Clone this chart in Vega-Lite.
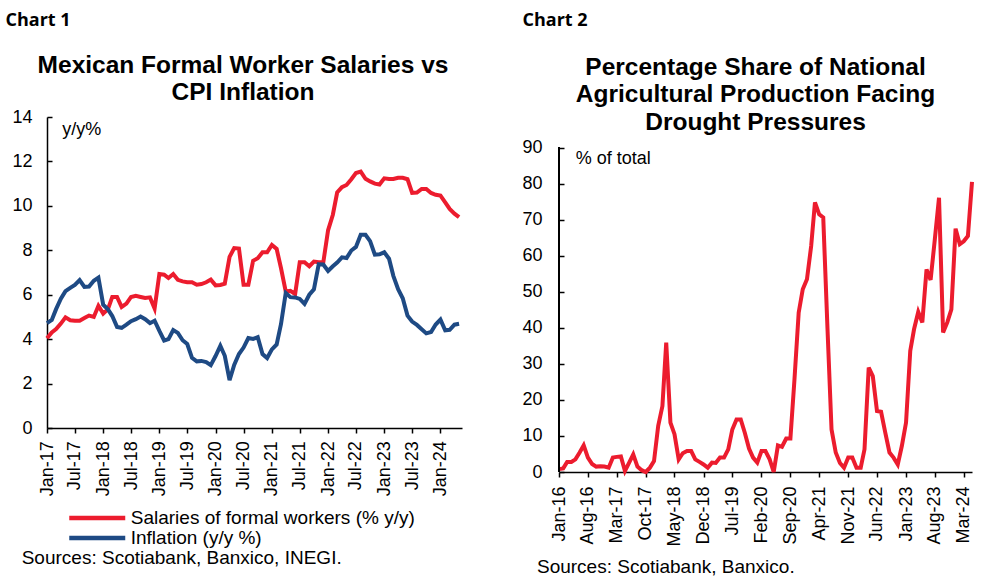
{
  "$schema": "https://vega.github.io/schema/vega-lite/v6.json",
  "background": "white",
  "padding": {"left": 5, "top": 11, "right": 5, "bottom": 0},
  "spacing": 53,
  "config": {"view": {"stroke": null}, "font": "Liberation Sans"},
  "datasets": {
    "c1": [
      {"date": "2017-01-01", "sal": 4.04, "inf": 4.72}, {"date": "2017-02-01", "sal": 4.3, "inf": 4.86}, {"date": "2017-03-01", "sal": 4.45, "inf": 5.35}, {"date": "2017-04-01", "sal": 4.7, "inf": 5.82}, {"date": "2017-05-01", "sal": 4.98, "inf": 6.16}, {"date": "2017-06-01", "sal": 4.85, "inf": 6.31}, {"date": "2017-07-01", "sal": 4.83, "inf": 6.44}, {"date": "2017-08-01", "sal": 4.83, "inf": 6.66}, {"date": "2017-09-01", "sal": 4.95, "inf": 6.35}, {"date": "2017-10-01", "sal": 5.06, "inf": 6.37}, {"date": "2017-11-01", "sal": 5.0, "inf": 6.63}, {"date": "2017-12-01", "sal": 5.5, "inf": 6.77},
      {"date": "2018-01-01", "sal": 5.15, "inf": 5.55}, {"date": "2018-02-01", "sal": 5.35, "inf": 5.34}, {"date": "2018-03-01", "sal": 5.9, "inf": 5.04}, {"date": "2018-04-01", "sal": 5.9, "inf": 4.55}, {"date": "2018-05-01", "sal": 5.45, "inf": 4.51}, {"date": "2018-06-01", "sal": 5.6, "inf": 4.65}, {"date": "2018-07-01", "sal": 5.9, "inf": 4.81}, {"date": "2018-08-01", "sal": 5.95, "inf": 4.9}, {"date": "2018-09-01", "sal": 5.9, "inf": 5.02}, {"date": "2018-10-01", "sal": 5.85, "inf": 4.9}, {"date": "2018-11-01", "sal": 5.88, "inf": 4.72}, {"date": "2018-12-01", "sal": 5.38, "inf": 4.83},
      {"date": "2019-01-01", "sal": 6.93, "inf": 4.37}, {"date": "2019-02-01", "sal": 6.9, "inf": 3.94}, {"date": "2019-03-01", "sal": 6.75, "inf": 4.0}, {"date": "2019-04-01", "sal": 6.93, "inf": 4.41}, {"date": "2019-05-01", "sal": 6.67, "inf": 4.28}, {"date": "2019-06-01", "sal": 6.6, "inf": 3.95}, {"date": "2019-07-01", "sal": 6.56, "inf": 3.78}, {"date": "2019-08-01", "sal": 6.56, "inf": 3.16}, {"date": "2019-09-01", "sal": 6.45, "inf": 3.0}, {"date": "2019-10-01", "sal": 6.48, "inf": 3.02}, {"date": "2019-11-01", "sal": 6.56, "inf": 2.97}, {"date": "2019-12-01", "sal": 6.68, "inf": 2.83},
      {"date": "2020-01-01", "sal": 6.42, "inf": 3.24}, {"date": "2020-02-01", "sal": 6.44, "inf": 3.7}, {"date": "2020-03-01", "sal": 6.5, "inf": 3.25}, {"date": "2020-04-01", "sal": 7.7, "inf": 2.15}, {"date": "2020-05-01", "sal": 8.1, "inf": 2.84}, {"date": "2020-06-01", "sal": 8.08, "inf": 3.33}, {"date": "2020-07-01", "sal": 6.45, "inf": 3.62}, {"date": "2020-08-01", "sal": 6.45, "inf": 4.05}, {"date": "2020-09-01", "sal": 7.53, "inf": 4.01}, {"date": "2020-10-01", "sal": 7.64, "inf": 4.09}, {"date": "2020-11-01", "sal": 7.91, "inf": 3.33}, {"date": "2020-12-01", "sal": 7.91, "inf": 3.15},
      {"date": "2021-01-01", "sal": 8.24, "inf": 3.54}, {"date": "2021-02-01", "sal": 8.06, "inf": 3.76}, {"date": "2021-03-01", "sal": 7.2, "inf": 4.67}, {"date": "2021-04-01", "sal": 6.14, "inf": 6.08}, {"date": "2021-05-01", "sal": 6.17, "inf": 5.89}, {"date": "2021-06-01", "sal": 6.03, "inf": 5.88}, {"date": "2021-07-01", "sal": 7.46, "inf": 5.81}, {"date": "2021-08-01", "sal": 7.46, "inf": 5.59}, {"date": "2021-09-01", "sal": 7.28, "inf": 6.0}, {"date": "2021-10-01", "sal": 7.49, "inf": 6.24}, {"date": "2021-11-01", "sal": 7.46, "inf": 7.37}, {"date": "2021-12-01", "sal": 7.46, "inf": 7.36},
      {"date": "2022-01-01", "sal": 8.9, "inf": 7.07}, {"date": "2022-02-01", "sal": 9.6, "inf": 7.28}, {"date": "2022-03-01", "sal": 10.6, "inf": 7.45}, {"date": "2022-04-01", "sal": 10.84, "inf": 7.68}, {"date": "2022-05-01", "sal": 10.94, "inf": 7.65}, {"date": "2022-06-01", "sal": 11.2, "inf": 7.99}, {"date": "2022-07-01", "sal": 11.48, "inf": 8.15}, {"date": "2022-08-01", "sal": 11.54, "inf": 8.7}, {"date": "2022-09-01", "sal": 11.22, "inf": 8.7}, {"date": "2022-10-01", "sal": 11.1, "inf": 8.41}, {"date": "2022-11-01", "sal": 11.0, "inf": 7.8}, {"date": "2022-12-01", "sal": 10.96, "inf": 7.82},
      {"date": "2023-01-01", "sal": 11.24, "inf": 7.91}, {"date": "2023-02-01", "sal": 11.21, "inf": 7.62}, {"date": "2023-03-01", "sal": 11.21, "inf": 6.85}, {"date": "2023-04-01", "sal": 11.26, "inf": 6.25}, {"date": "2023-05-01", "sal": 11.26, "inf": 5.84}, {"date": "2023-06-01", "sal": 11.2, "inf": 5.06}, {"date": "2023-07-01", "sal": 10.58, "inf": 4.79}, {"date": "2023-08-01", "sal": 10.6, "inf": 4.64}, {"date": "2023-09-01", "sal": 10.76, "inf": 4.45}, {"date": "2023-10-01", "sal": 10.76, "inf": 4.26}, {"date": "2023-11-01", "sal": 10.58, "inf": 4.32}, {"date": "2023-12-01", "sal": 10.5, "inf": 4.66},
      {"date": "2024-01-01", "sal": 10.46, "inf": 4.88}, {"date": "2024-02-01", "sal": 10.16, "inf": 4.4}, {"date": "2024-03-01", "sal": 9.86, "inf": 4.42}, {"date": "2024-04-01", "sal": 9.65, "inf": 4.65}, {"date": "2024-05-01", "sal": 9.49, "inf": 4.69}
    ],
    "c2": [
      {"date": "2016-01-01", "share": 0.8}, {"date": "2016-02-01", "share": 1.0}, {"date": "2016-03-01", "share": 2.8}, {"date": "2016-04-01", "share": 2.8}, {"date": "2016-05-01", "share": 3.5}, {"date": "2016-06-01", "share": 5.4}, {"date": "2016-07-01", "share": 7.4}, {"date": "2016-08-01", "share": 4.0}, {"date": "2016-09-01", "share": 2.2}, {"date": "2016-10-01", "share": 1.5}, {"date": "2016-11-01", "share": 1.6}, {"date": "2016-12-01", "share": 1.5},
      {"date": "2017-01-01", "share": 1.2}, {"date": "2017-02-01", "share": 4.0}, {"date": "2017-03-01", "share": 4.2}, {"date": "2017-04-01", "share": 4.3}, {"date": "2017-05-01", "share": 0.3}, {"date": "2017-06-01", "share": 2.6}, {"date": "2017-07-01", "share": 4.9}, {"date": "2017-08-01", "share": 1.5}, {"date": "2017-09-01", "share": 0.5}, {"date": "2017-10-01", "share": 0.0}, {"date": "2017-11-01", "share": 1.2}, {"date": "2017-12-01", "share": 3.0},
      {"date": "2018-01-01", "share": 12.8}, {"date": "2018-02-01", "share": 18.3}, {"date": "2018-03-01", "share": 35.9}, {"date": "2018-04-01", "share": 13.7}, {"date": "2018-05-01", "share": 10.5}, {"date": "2018-06-01", "share": 3.5}, {"date": "2018-07-01", "share": 5.2}, {"date": "2018-08-01", "share": 5.8}, {"date": "2018-09-01", "share": 5.8}, {"date": "2018-10-01", "share": 3.5}, {"date": "2018-11-01", "share": 2.8}, {"date": "2018-12-01", "share": 2.1},
      {"date": "2019-01-01", "share": 1.2}, {"date": "2019-02-01", "share": 2.6}, {"date": "2019-03-01", "share": 2.5}, {"date": "2019-04-01", "share": 4.0}, {"date": "2019-05-01", "share": 4.0}, {"date": "2019-06-01", "share": 6.3}, {"date": "2019-07-01", "share": 11.8}, {"date": "2019-08-01", "share": 14.6}, {"date": "2019-09-01", "share": 14.6}, {"date": "2019-10-01", "share": 10.9}, {"date": "2019-11-01", "share": 6.5}, {"date": "2019-12-01", "share": 4.0},
      {"date": "2020-01-01", "share": 2.6}, {"date": "2020-02-01", "share": 5.8}, {"date": "2020-03-01", "share": 5.8}, {"date": "2020-04-01", "share": 3.5}, {"date": "2020-05-01", "share": 0.0}, {"date": "2020-06-01", "share": 7.4}, {"date": "2020-07-01", "share": 7.0}, {"date": "2020-08-01", "share": 9.3}, {"date": "2020-09-01", "share": 9.3}, {"date": "2020-10-01", "share": 25.7}, {"date": "2020-11-01", "share": 44.2}, {"date": "2020-12-01", "share": 50.7},
      {"date": "2021-01-01", "share": 53.5}, {"date": "2021-02-01", "share": 62.7}, {"date": "2021-03-01", "share": 74.8}, {"date": "2021-04-01", "share": 71.5}, {"date": "2021-05-01", "share": 70.6}, {"date": "2021-06-01", "share": 40.0}, {"date": "2021-07-01", "share": 11.8}, {"date": "2021-08-01", "share": 5.4}, {"date": "2021-09-01", "share": 2.5}, {"date": "2021-10-01", "share": 1.2}, {"date": "2021-11-01", "share": 4.0}, {"date": "2021-12-01", "share": 4.0},
      {"date": "2022-01-01", "share": 1.2}, {"date": "2022-02-01", "share": 1.2}, {"date": "2022-03-01", "share": 6.3}, {"date": "2022-04-01", "share": 29.0}, {"date": "2022-05-01", "share": 26.6}, {"date": "2022-06-01", "share": 16.9}, {"date": "2022-07-01", "share": 16.7}, {"date": "2022-08-01", "share": 10.9}, {"date": "2022-09-01", "share": 5.4}, {"date": "2022-10-01", "share": 4.0}, {"date": "2022-11-01", "share": 2.1}, {"date": "2022-12-01", "share": 7.2},
      {"date": "2023-01-01", "share": 13.7}, {"date": "2023-02-01", "share": 33.6}, {"date": "2023-03-01", "share": 39.6}, {"date": "2023-04-01", "share": 44.4}, {"date": "2023-05-01", "share": 41.5}, {"date": "2023-06-01", "share": 56.2}, {"date": "2023-07-01", "share": 53.3}, {"date": "2023-08-01", "share": 64.5}, {"date": "2023-09-01", "share": 76.1}, {"date": "2023-10-01", "share": 38.7}, {"date": "2023-11-01", "share": 41.5}, {"date": "2023-12-01", "share": 45.1},
      {"date": "2024-01-01", "share": 67.5}, {"date": "2024-02-01", "share": 63.2}, {"date": "2024-03-01", "share": 64.0}, {"date": "2024-04-01", "share": 65.5}, {"date": "2024-05-01", "share": 80.5}
    ]
  },
  "hconcat": [
    {
      "width": 415,
      "height": 311,
      "data": {"name": "c1"},
      "transform": [{"fold": ["sal", "inf"], "as": ["series", "value"]}],
      "title": {"text": "Sources: Scotiabank, Banxico, INEGI.", "orient": "bottom", "anchor": "start", "frame": "bounds", "dx": 16.7, "offset": 53, "font": "Liberation Sans", "fontSize": 19, "fontWeight": "normal", "color": "black", "baseline": "top"},
      "layer": [
        {
          "mark": {"type": "line", "strokeWidth": 4},
          "encoding": {
            "x": {"field": "date", "type": "temporal",
              "scale": {"type": "utc", "domain": [{"year": 2017, "month": 1, "date": 1, "utc": true}, {"year": 2024, "month": 5, "date": 20, "utc": true}]},
              "axis": {"orient": "bottom", "title": null, "labelExpr": "utcFormat(datum.value, '%b-%y')",
                "values": [{"year": 2017, "month": 1, "date": 1, "utc": true}, {"year": 2017, "month": 7, "date": 1, "utc": true}, {"year": 2018, "month": 1, "date": 1, "utc": true}, {"year": 2018, "month": 7, "date": 1, "utc": true}, {"year": 2019, "month": 1, "date": 1, "utc": true}, {"year": 2019, "month": 7, "date": 1, "utc": true}, {"year": 2020, "month": 1, "date": 1, "utc": true}, {"year": 2020, "month": 7, "date": 1, "utc": true}, {"year": 2021, "month": 1, "date": 1, "utc": true}, {"year": 2021, "month": 7, "date": 1, "utc": true}, {"year": 2022, "month": 1, "date": 1, "utc": true}, {"year": 2022, "month": 7, "date": 1, "utc": true}, {"year": 2023, "month": 1, "date": 1, "utc": true}, {"year": 2023, "month": 7, "date": 1, "utc": true}, {"year": 2024, "month": 1, "date": 1, "utc": true}],
                "labelAngle": -90, "labelAlign": "right", "labelBaseline": "middle", "labelFont": "Liberation Sans", "labelFontSize": 18, "labelColor": "black", "labelPadding": 7.7, "labelOverlap": false, "labelFlush": false, "labelBound": false,
                "tickSize": 5, "tickColor": "black", "tickWidth": 1.5, "domainColor": "black", "domainWidth": 1.5, "grid": false}},
            "y": {"field": "value", "type": "quantitative", "scale": {"domain": [0, 14], "nice": false, "zero": true},
              "axis": {"orient": "left", "values": [0, 2, 4, 6, 8, 10, 12, 14], "labelFont": "Liberation Sans", "labelFontSize": 18, "labelColor": "black", "labelPadding": 20,
                "tickSize": -5, "tickColor": "black", "tickWidth": 1.5, "domainColor": "black", "domainWidth": 1.5, "grid": false,
                "title": "Chart 1", "titleFont": "Open Sans", "titleFontSize": 18, "titleFontWeight": "bold", "titleColor": "black", "titleAngle": 0, "titleAlign": "left", "titleBaseline": "alphabetic", "titleX": -42, "titleY": -92}},
            "color": {"field": "series", "type": "nominal", "sort": ["sal", "inf"],
              "scale": {"domain": ["sal", "inf"], "range": ["#EC1C2E", "#1E4A84"]},
              "legend": {"orient": "none", "legendX": 22, "legendY": 391, "direction": "vertical", "title": null,
                "labelExpr": "datum.label == 'sal' ? 'Salaries of formal workers (% y/y)' : 'Inflation (y/y %)'",
                "symbolType": "M-3.733,0H3.733", "symbolSize": 225, "symbolStrokeWidth": 4.5, "symbolOffset": 18.25, "labelFont": "Liberation Sans", "labelFontSize": 19, "labelColor": "black", "labelOffset": 23.5, "rowPadding": 0, "padding": 0, "labelLimit": 0}}
          }
        },
        {
          "mark": {"type": "line", "opacity": 0},
          "encoding": {
            "x": {"field": "date", "type": "temporal", "scale": {"type": "utc"},
              "axis": {"orient": "top", "labels": false, "ticks": false, "domain": false, "grid": false, "minExtent": 0,
                "title": ["Mexican Formal Worker Salaries vs", "CPI Inflation"], "titleFont": "Liberation Sans", "titleFontSize": 24.5, "titleFontWeight": "bold", "titleColor": "black", "titleAngle": 0, "titleAlign": "center", "titleBaseline": "alphabetic", "titleX": 195.5, "titleY": -44.7, "titleLineHeight": 27.7}},
            "y": {"field": "value", "type": "quantitative",
              "axis": {"orient": "right", "labels": false, "ticks": false, "domain": false, "grid": false, "minExtent": 0,
                "title": "y/y%", "titleFont": "Liberation Sans", "titleFontSize": 18, "titleFontWeight": "normal", "titleColor": "black", "titleAngle": 0, "titleAlign": "left", "titleBaseline": "alphabetic", "titleX": -400.3, "titleY": 17}},
            "detail": {"field": "series", "type": "nominal"}
          }
        }
      ]
    },
    {
      "width": 413,
      "height": 355,
      "data": {"name": "c2"},
      "title": {"text": "Sources: Scotiabank, Banxico.", "orient": "bottom", "anchor": "start", "frame": "bounds", "dx": 15, "offset": 12, "font": "Liberation Sans", "fontSize": 19, "fontWeight": "normal", "color": "black", "baseline": "top"},
      "layer": [
        {
          "mark": {"type": "line", "strokeWidth": 4, "color": "#EC1C2E"},
          "encoding": {
            "x": {"field": "date", "type": "temporal",
              "scale": {"type": "utc", "domain": [{"year": 2016, "month": 1, "date": 1, "utc": true}, {"year": 2024, "month": 5, "date": 1, "utc": true}]},
              "axis": {"orient": "bottom", "title": null, "labelExpr": "utcFormat(datum.value, '%b-%y')",
                "values": [{"year": 2016, "month": 1, "date": 1, "utc": true}, {"year": 2016, "month": 8, "date": 1, "utc": true}, {"year": 2017, "month": 3, "date": 1, "utc": true}, {"year": 2017, "month": 10, "date": 1, "utc": true}, {"year": 2018, "month": 5, "date": 1, "utc": true}, {"year": 2018, "month": 12, "date": 1, "utc": true}, {"year": 2019, "month": 7, "date": 1, "utc": true}, {"year": 2020, "month": 2, "date": 1, "utc": true}, {"year": 2020, "month": 9, "date": 1, "utc": true}, {"year": 2021, "month": 4, "date": 1, "utc": true}, {"year": 2021, "month": 11, "date": 1, "utc": true}, {"year": 2022, "month": 6, "date": 1, "utc": true}, {"year": 2023, "month": 1, "date": 1, "utc": true}, {"year": 2023, "month": 8, "date": 1, "utc": true}, {"year": 2024, "month": 3, "date": 1, "utc": true}],
                "labelAngle": -90, "labelAlign": "right", "labelBaseline": "middle", "labelFont": "Liberation Sans", "labelFontSize": 18, "labelColor": "black", "labelPadding": 9, "labelOverlap": false, "labelFlush": false, "labelBound": false,
                "tickSize": 5, "tickColor": "black", "tickWidth": 1.5, "domainColor": "black", "domainWidth": 1.5, "grid": false}},
            "y": {"field": "share", "type": "quantitative", "scale": {"domain": [0, 98.5], "nice": false, "zero": true},
              "axis": {"orient": "left", "values": [0, 10, 20, 30, 40, 50, 60, 70, 80, 90], "labelFont": "Liberation Sans", "labelFontSize": 18, "labelColor": "black", "labelPadding": 22,
                "tickSize": -5, "tickColor": "black", "tickWidth": 1.5, "domain": false, "grid": false,
                "title": "Chart 2", "titleFont": "Open Sans", "titleFontSize": 18, "titleFontWeight": "bold", "titleColor": "black", "titleAngle": 0, "titleAlign": "left", "titleBaseline": "alphabetic", "titleX": -37, "titleY": -92}}
          }
        },
        {
          "mark": {"type": "rule", "color": "black", "strokeWidth": 1.5},
          "encoding": {
            "x": {"datum": {"year": 2016, "month": 1, "date": 1, "utc": true}, "type": "temporal", "axis": null},
            "y": {"datum": 0, "type": "quantitative", "axis": null},
            "y2": {"datum": 90}
          }
        },
        {
          "mark": {"type": "line", "opacity": 0},
          "encoding": {
            "x": {"field": "date", "type": "temporal", "scale": {"type": "utc"},
              "axis": {"orient": "top", "labels": false, "ticks": false, "domain": false, "grid": false, "minExtent": 0,
                "title": ["Percentage Share of National", "Agricultural Production Facing", "Drought Pressures"], "titleFont": "Liberation Sans", "titleFontSize": 24.5, "titleFontWeight": "bold", "titleColor": "black", "titleAngle": 0, "titleAlign": "center", "titleBaseline": "alphabetic", "titleX": 196, "titleY": -43, "titleLineHeight": 27.5}},
            "y": {"field": "share", "type": "quantitative",
              "axis": {"orient": "right", "labels": false, "ticks": false, "domain": false, "grid": false, "minExtent": 0,
                "title": "% of total", "titleFont": "Liberation Sans", "titleFontSize": 18, "titleFontWeight": "normal", "titleColor": "black", "titleAngle": 0, "titleAlign": "left", "titleBaseline": "alphabetic", "titleX": -396.7, "titleY": 46.3}}
          }
        }
      ]
    }
  ]
}
